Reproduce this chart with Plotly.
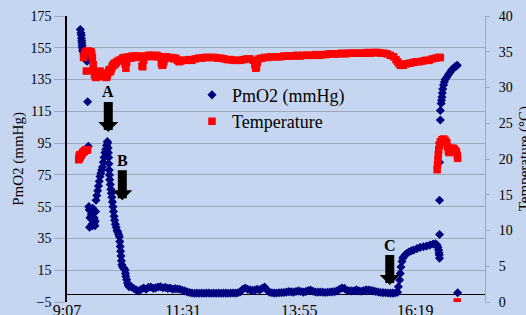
import plotly.graph_objects as go

# ---------------- data ----------------
o2_time = [
    "9:23:30", "9:24:15", "9:24:45", "9:25", "9:25:15", "9:25:30", "9:25:45", "9:26", "9:26:30", "9:27",
    "9:28", "9:29", "9:30", "9:31", "9:32",
    "9:32:35", "9:33:25",
    "9:34", "9:34:40", "9:35", "9:35:30", "9:36", "9:36:40", "9:37", "9:37:30", "9:38", "9:38:30",
    "9:39", "9:39:40", "9:40", "9:40:40", "9:41", "9:41:40", "9:42", "9:42:30",
    "9:43", "9:44", "9:45", "9:46", "9:47", "9:48", "9:49", "9:50", "9:51", "9:52", "9:53", "9:54",
    "9:55", "9:56", "9:57",
    "9:57:30", "9:58", "9:58:20", "9:58:40", "9:59", "9:59:20", "9:59:40", "10:00", "10:00:40",
    "10:01:20", "10:02", "10:02:40", "10:03:20", "10:04", "10:04:40", "10:05:20", "10:06", "10:07",
    "10:08", "10:09", "10:10", "10:11", "10:12", "10:12:30", "10:13", "10:13:30", "10:14", "10:14:30",
    "10:15", "10:16", "10:17", "10:18", "10:19", "10:19:30", "10:20", "10:21", "10:22", "10:23", "10:24",
    "10:27", "10:30", "10:33", "10:36", "10:39", "10:42", "10:45", "10:48", "10:51", "10:54", "10:57",
    "11:00", "11:03", "11:06", "11:09", "11:12", "11:15", "11:18", "11:21", "11:24", "11:27", "11:30",
    "11:33", "11:36", "11:39", "11:42", "11:45", "11:48", "11:51", "11:54", "11:57", "12:00", "12:03",
    "12:06", "12:09", "12:12", "12:15", "12:18", "12:21", "12:24", "12:27", "12:30", "12:33", "12:36",
    "12:39", "12:42", "12:45", "12:48", "12:51", "12:54", "12:57", "13:00", "13:03", "13:06", "13:09",
    "13:12", "13:15", "13:18", "13:21", "13:24", "13:27", "13:30", "13:33", "13:36", "13:39", "13:42",
    "13:45", "13:48", "13:51", "13:54", "13:57", "14:00", "14:03", "14:06", "14:09", "14:12", "14:15",
    "14:18", "14:21", "14:24", "14:27", "14:30", "14:33", "14:36", "14:39", "14:42", "14:45", "14:48",
    "14:51", "14:54", "14:57", "15:00", "15:03", "15:06", "15:09", "15:12", "15:15", "15:18", "15:21",
    "15:24", "15:27", "15:30", "15:33", "15:36", "15:39", "15:42", "15:45", "15:48", "15:51", "15:54",
    "15:57",
    "15:58", "15:59:30", "16:00:20", "16:01:10", "16:02:25", "16:03:30", "16:04:30", "16:06:30",
    "16:08:40", "16:11", "16:14", "16:17", "16:21", "16:25", "16:29", "16:33", "16:37", "16:41",
    "16:44", "16:46", "16:47", "16:47:50", "16:48:20", "16:48:40", "16:49",
    "16:49", "16:49", "16:49", "16:49", "16:50", "16:50",
    "16:51", "16:51:30", "16:52", "16:52:30", "16:53", "16:54", "16:55", "16:56", "16:58", "17:00",
    "17:02", "17:04", "17:06", "17:08", "17:10", "17:11",
    "17:11:30",
]
o2_value = [
    166.5, 164.5, 163, 161, 159.5, 158, 156.5, 155, 153.5, 152.5,
    151, 149.5, 148, 147, 146.5,
    121, 93,
    55, 53, 42, 48, 53, 52, 50, 47, 44, 43,
    54, 53, 51, 48, 45, 43, 46, 52,
    59, 62, 65, 68, 71, 74, 76, 78, 80, 83, 86, 89,
    91, 93.5, 96,
    95, 92, 89, 86, 82, 78, 75, 72, 69,
    66, 63.5, 61, 58, 55, 52, 49, 46.5, 44,
    42, 40, 39, 37.5, 36, 33, 30, 27, 24, 21,
    18.5, 17, 16.5, 16, 15, 13, 11, 9, 7, 5.5, 4.6,
    4.5, 3.5, 2.5, 2.0, 3.0, 3.8, 3.0, 4.2, 4.4, 3.6, 3.9,
    4.4, 4.6, 4.0, 4.2, 3.6, 3.8, 3.0, 3.4, 3.2, 3.0, 2.4,
    2.0, 1.4, 1.0, 0.7, 0.5, 0.6, 0.5, 0.6, 0.5, 0.6, 0.6,
    0.5, 0.6, 0.5, 0.6, 0.5, 0.6, 0.6, 0.5, 0.6, 0.7, 0.6,
    0.8, 1.5, 3.0, 3.8, 3.0, 2.6, 2.4, 2.5, 3.0, 2.6, 3.6,
    4.4, 2.5, 1.2, 0.8, 0.6, 0.7, 0.8, 0.9, 1.0, 1.2, 1.5,
    1.4, 1.2, 1.6, 2.0, 1.6, 1.2, 1.5, 2.2, 2.5, 1.8, 1.3,
    1.2, 1.3, 1.2, 1.0, 1.1, 1.3, 1.4, 1.5, 2.0, 3.0, 3.8,
    3.6, 2.4, 2.1, 2.0, 2.1, 2.6, 2.0, 1.8, 2.2, 2.6, 2.5,
    2.3, 2.0, 1.6, 1.3, 1.0, 0.9, 0.8, 0.7, 0.6, 0.6, 0.7,
    1.2,
    4.6, 8.8, 13, 17, 20.5, 22.5, 23.5, 24.8,
    25.6, 26.5, 27.2, 27.7, 28.6, 29.4, 29.8, 30.2, 30.8, 31.5,
    31.6, 30.9, 29.5, 27.7, 26, 24.6, 22.5,
    37.5, 59, 83, 95, 109.5, 115.5,
    120, 122, 124, 126.5, 129, 131.5, 133.5, 135, 136.5, 138,
    139.5, 141, 142, 143, 143.5, 144,
    0.8,
]

temp_time = [
    "9:21:30", "9:22", "9:22:30", "9:23", "9:23:30", "9:24:30", "9:25:30", "9:26:30", "9:27:30",
    "9:28:30", "9:29:30", "9:30:30", "9:31:30", "9:32:30",
    "9:27:30", "9:28:30", "9:29:30", "9:30:30", "9:31", "9:31:30", "9:32:30", "9:33:30", "9:34:30",
    "9:35:30", "9:36:30", "9:37:30", "9:38:30", "9:39:30", "9:40", "9:41", "9:42", "9:43", "9:44",
    "9:45", "9:46", "9:47", "9:48", "9:49", "9:50", "9:51", "9:52", "9:53", "9:54", "9:55", "9:56",
    "9:57", "9:58", "9:59", "10:00", "10:01", "10:02", "10:03", "10:04", "10:05", "10:06", "10:07",
    "10:08", "10:10", "10:12", "10:14", "10:16", "10:18", "10:19", "10:20", "10:21", "10:22", "10:24",
    "10:26", "10:28", "10:30", "10:32", "10:34", "10:36", "10:38", "10:40", "10:41", "10:42", "10:44",
    "10:46", "10:48", "10:50", "10:52", "10:54", "10:56", "10:58", "11:00", "11:02", "11:04", "11:05",
    "11:06", "11:07", "11:08", "11:10", "11:12", "11:14", "11:16", "11:18", "11:20", "11:22", "11:24",
    "11:26", "11:28", "11:30", "11:34", "11:38", "11:42", "11:46", "11:50", "11:54", "11:58", "12:02",
    "12:06", "12:10", "12:14", "12:18", "12:22", "12:26", "12:30", "12:34", "12:38", "12:42", "12:46",
    "12:50", "12:54", "12:58", "13:00", "13:01", "13:02", "13:03", "13:05", "13:08", "13:12", "13:16",
    "13:20", "13:24", "13:28", "13:32", "13:36", "13:40", "13:44", "13:48", "13:52", "13:56", "14:00",
    "14:04", "14:08", "14:12", "14:16", "14:20", "14:24", "14:28", "14:32", "14:36", "14:40", "14:44",
    "14:48", "14:52", "14:56", "15:00", "15:04", "15:08", "15:12", "15:16", "15:20", "15:24", "15:28",
    "15:32", "15:36", "15:40", "15:44", "15:48", "15:52", "15:55", "15:57", "15:59", "16:01", "16:04",
    "16:08", "16:12", "16:16", "16:20", "16:24", "16:28", "16:32", "16:36", "16:40", "16:44", "16:48",
    "16:50",
    "16:46", "16:46:30", "16:47", "16:47:30", "16:48", "16:49", "16:50", "16:52", "16:54", "16:56",
    "16:58", "16:59", "17:00", "17:01", "17:02", "17:04", "17:06", "17:08", "17:10", "17:11", "17:11:30",
    "17:11",
]
temp_value = [
    19.9, 20.4, 20.1, 20.6, 20.3, 20.5, 20.7, 20.9, 21.0,
    21.1, 21.2, 21.3, 21.3, 21.3,
    34.2, 34.6, 34.9, 35.0, 32.3, 35.0, 35.1, 35.1, 35.0,
    34.9, 35.0, 34.8, 34.2, 33.2, 32.4, 31.8, 31.5, 31.4, 31.6,
    31.8, 31.6, 31.9, 32.3, 32.0, 31.8, 31.6, 31.5, 31.7, 31.9, 31.6, 31.4,
    31.7, 32.1, 32.4, 32.5, 32.2, 32.6, 32.9, 33.2, 33.1, 33.4, 33.3,
    33.5, 33.7, 33.8, 33.9, 34.1, 34.2, 33.3, 32.7, 33.5, 34.2, 34.3,
    34.1, 34.4, 34.3, 34.4, 34.2, 34.4, 34.3, 33.0, 32.9, 33.8, 34.4,
    34.3, 34.5, 34.4, 34.5, 34.4, 34.3, 34.5, 34.4, 34.3, 33.4, 33.1,
    33.2, 33.6, 34.0, 34.3, 34.2, 34.1, 34.2, 34.1, 34.0, 34.1, 33.8,
    33.6, 33.7, 33.8, 33.8, 33.9, 33.8, 34.0, 34.1, 34.1, 34.2, 34.2,
    34.2, 34.2, 34.1, 34.1, 34.0, 33.9, 33.9, 33.8, 33.8, 33.8, 33.9,
    34.0, 34.0, 33.8, 33.2, 32.7, 32.8, 33.5, 34.0, 34.1, 34.2, 34.2,
    34.3, 34.3, 34.3, 34.3, 34.4, 34.4, 34.4, 34.4, 34.5, 34.4, 34.5,
    34.5, 34.5, 34.5, 34.6, 34.5, 34.6, 34.6, 34.7, 34.7, 34.7, 34.7,
    34.8, 34.7, 34.8, 34.8, 34.8, 34.8, 34.8, 34.8, 34.9, 34.8, 34.9,
    34.9, 34.8, 34.8, 34.7, 34.5, 34.3, 33.9, 33.6, 33.3, 33.1, 33.1,
    33.3, 33.4, 33.5, 33.6, 33.6, 33.7, 33.8, 33.8, 34.0, 34.1, 34.2,
    34.2,
    18.5, 19.2, 19.9, 20.6, 21.3, 21.9, 22.4, 22.7, 22.8, 22.6,
    22.3, 21.7, 21.1, 20.9, 21.3, 21.5, 21.5, 21.3, 21.0, 20.5, 20.1,
    0.0,
]

x_tick_labels = ["9:07", "11:31", "13:55", "16:19"]
x_range_labels = ["9:07", "17:45:24"]
y_left_range = [-5, 175]
y_right_range = [0, 40]

# annotations: (label, time of arrow tip, PmO2 value of arrow tip)
event_labels = ["A", "B", "C"]
event_time = ["9:58:12", "10:15:36", "15:47:18"]
event_value = [102, 59, 5.7]


def ts(s):
    p = s.split(":")
    h, m = int(p[0]), int(p[1])
    sec = int(p[2]) if len(p) > 2 else 0
    return f"2000-01-01 {h:02d}:{m:02d}:{sec:02d}"


SERIF = "Liberation Serif, Times New Roman, serif"
BG = "#C6D6F0"
GRID = "#9EA8BC"

fig = go.Figure()
fig.add_trace(go.Scatter(
    x=[ts(t) for t in o2_time], y=o2_value, mode="markers", name="PmO2 (mmHg)",
    marker=dict(symbol="diamond", size=7, color="#000080", line=dict(width=0)),
))
fig.add_trace(go.Scatter(
    x=[ts(t) for t in temp_time], y=temp_value, mode="markers", name="Temperature",
    yaxis="y2",
    marker=dict(symbol="square", size=7.5, color="#FF0000", line=dict(width=0)),
))

for lab, t, v in zip(event_labels, event_time, event_value):
    fig.add_annotation(
        x=ts(t), y=v, xref="x", yref="y", text=f"<b>{lab}</b>",
        showarrow=True, ax=0, ay=-40, arrowhead=1, arrowwidth=9, arrowsize=0.37,
        arrowcolor="black", font=dict(family=SERIF, size=16, color="black"),
    )

# right-hand axis title (sits partly past the figure edge, as in the reference)
fig.add_annotation(
    x=1.094, y=0.5, xref="paper", yref="paper", text="Temperature (°C)",
    textangle=-90, showarrow=False, xanchor="center", yanchor="middle",
    font=dict(family=SERIF, size=15, color="black"),
)

fig.update_layout(
    template="none",
    width=526, height=315,
    margin=dict(l=67, r=41, t=16, b=13),
    paper_bgcolor=BG, plot_bgcolor=BG,
    font=dict(family=SERIF, size=14, color="black"),
    showlegend=True,
    legend=dict(x=0.299, y=0.788, xanchor="left", yanchor="top",
                bgcolor="rgba(0,0,0,0)", borderwidth=0,
                font=dict(family=SERIF, size=18, color="black")),
    xaxis=dict(
        type="date", range=[ts(x_range_labels[0]), ts(x_range_labels[1])],
        tickvals=[ts(t) for t in x_tick_labels], ticktext=x_tick_labels,
        showgrid=False, showline=False, zeroline=False, ticks="",
        tickfont=dict(size=16), automargin=False, ticklabelstandoff=-3,
    ),
    yaxis=dict(
        range=y_left_range, tick0=-5, dtick=20,
        showgrid=True, gridcolor=GRID, gridwidth=1,
        zeroline=True, zerolinecolor="black", zerolinewidth=1.3,
        showline=True, linecolor="black", linewidth=1.5,
        ticks="outside", ticklen=11, tickcolor=GRID, tickwidth=1,
        automargin=False,
        title=dict(text="PmO2 (mmHg)", font=dict(size=15), standoff=3),
    ),
    yaxis2=dict(
        range=y_right_range, tick0=0, dtick=5, overlaying="y", side="right",
        showgrid=False, zeroline=False,
        showline=True, linecolor=GRID, linewidth=1,
        ticks="outside", ticklen=4, tickcolor=GRID, ticklabelstandoff=6,
        automargin=False,
    ),
)

fig.write_html("out.html", config={"displayModeBar": False},
               post_script="document.body.style.margin='0';")
